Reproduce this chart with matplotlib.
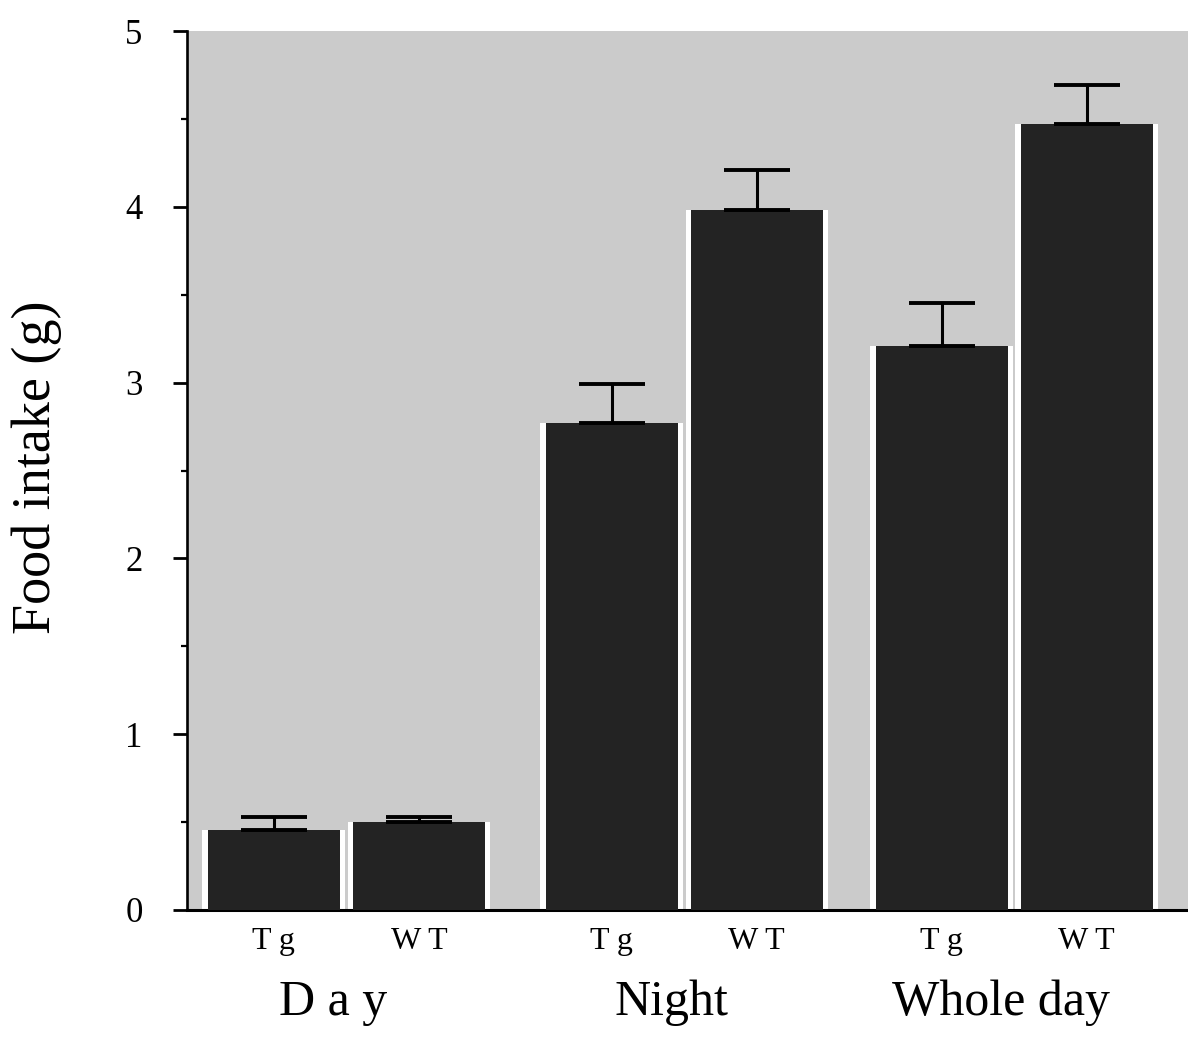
import numpy as np
import matplotlib
matplotlib.use("Agg")
import matplotlib.pyplot as plt
import matplotlib.transforms as mtransforms

# values (g)
groups = ["D a y", "Night", "Whole day"]
genotypes = ["T g", "W T"]
tg_means = [0.455, 2.77, 3.21]
wt_means = [0.50, 3.98, 4.47]
tg_err = [0.075, 0.22, 0.24]
wt_err = [0.03, 0.23, 0.22]

plt.rcParams['font.family'] = ['Liberation Serif', 'DejaVu Serif']

group_centers = np.array([0.54, 3.10, 5.60])
offset = 0.55
bar_w = 1.0
bg_grey = "#cbcbcb"
bar_col = "#232323"

fig = plt.figure(figsize=(11.88, 10.4), dpi=100)
ax = fig.add_axes([187 / 1188, 130 / 1040, 1001 / 1188, 879 / 1040])
ax.set_facecolor(bg_grey)

x_tg = group_centers - offset
x_wt = group_centers + offset

for x, m, e in [(x_tg, tg_means, tg_err), (x_wt, wt_means, wt_err)]:
    # white halo round the bars, as in the scan
    ax.bar(x, m, width=bar_w + 0.08, color="white", zorder=2)
    ax.bar(x, m, width=bar_w, color=bar_col, zorder=3)
    ax.errorbar(x, m, yerr=[np.zeros(len(m)), e], fmt="none", ecolor="black",
                elinewidth=2.2, capsize=24, capthick=2.8, zorder=4)

ax.set_xlim(-0.667, 6.917)
ax.set_ylim(0, 5)

ax.set_yticks([0, 1, 2, 3, 4, 5])
ax.set_yticks(np.arange(0.5, 5, 1.0), minor=True)
ax.tick_params(axis="y", which="major", direction="out", length=10, width=2,
               labelsize=25, pad=22)
ax.tick_params(axis="y", which="minor", direction="out", length=4, width=1.6)

xticks = np.sort(np.concatenate([x_tg, x_wt]))
ax.set_xticks(xticks)
ax.set_xticklabels(genotypes * 3, fontsize=23)
ax.tick_params(axis="x", length=0, pad=12)

for s in ["top", "right"]:
    ax.spines[s].set_visible(False)
ax.spines["left"].set_linewidth(1.9)
ax.spines["bottom"].set_linewidth(2.2)

trans = mtransforms.blended_transform_factory(ax.transData, ax.transAxes)
for gx, g in zip(group_centers - 0.1, groups):
    ax.text(gx, -0.106, g, transform=trans, ha="center", va="center", fontsize=36)

fig.text(37 / 1188, 1 - 467 / 1040, "Food intake (g)", rotation=90,
         ha="center", va="center", fontsize=39)

plt.savefig("out.png", dpi=100)
